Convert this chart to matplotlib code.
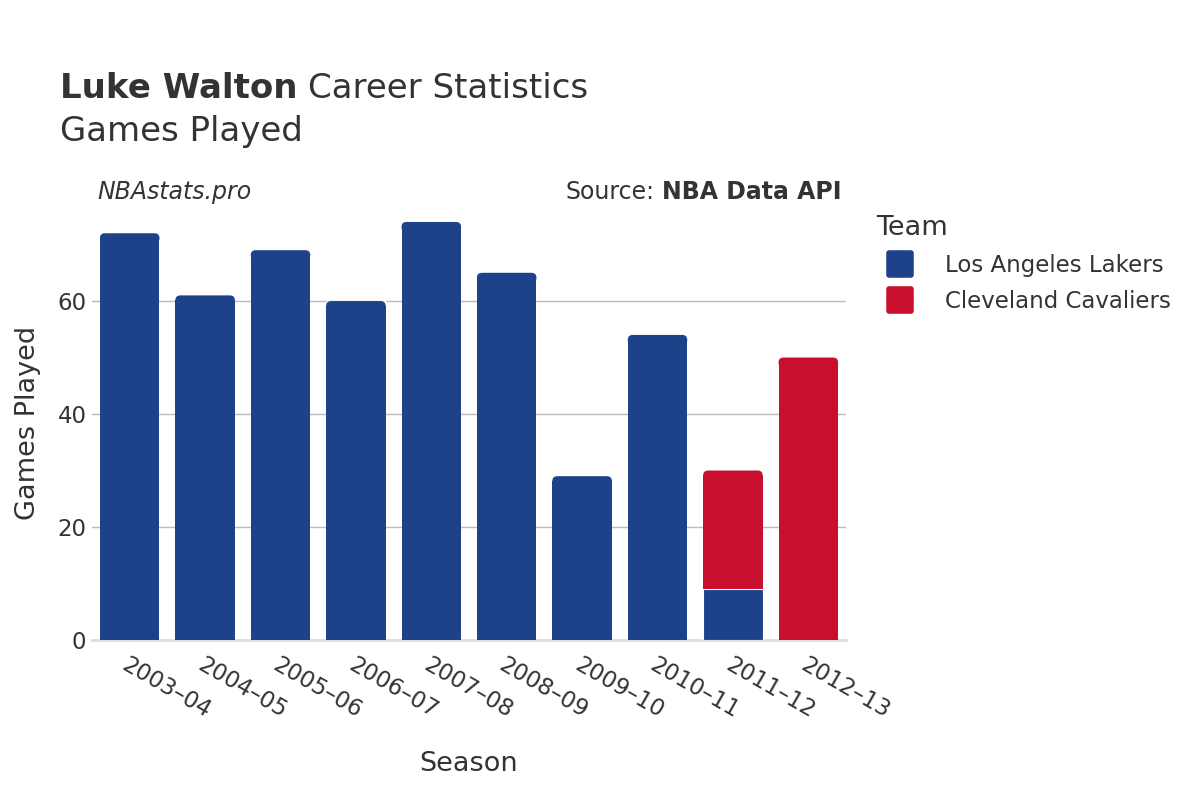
import numpy as np
import matplotlib.pyplot as plt
from matplotlib.patches import FancyBboxPatch
from matplotlib.lines import Line2D
from matplotlib.markers import MarkerStyle

# データ
seasons = ['2003–04', '2004–05', '2005–06', '2006–07', '2007–08',
           '2008–09', '2009–10', '2010–11', '2011–12', '2012–13']
lakers = [72, 61, 69, 60, 74, 65, 29, 54, 9, 0]
cavaliers = [0, 0, 0, 0, 0, 0, 0, 0, 21, 50]
teams = ['Los Angeles Lakers', 'Cleveland Cavaliers']
colors = ['#1d428a', '#c8102e']

text_color = '#333333'
plt.rcParams['font.family'] = ['DejaVu Sans']

fig = plt.figure(figsize=(12, 8), dpi=100)
ax = fig.add_axes([92 / 1200, 1 - 640 / 800, 754 / 1200, 435 / 800])

x = np.arange(len(seasons))
width = 0.79
ymax = 77

ax.set_xlim(-0.5, len(seasons) - 0.5)
ax.set_ylim(0, ymax)

# 積み上げ棒グラフ
b1 = ax.bar(x, lakers, width, color=colors[0], edgecolor='white', linewidth=0.8, zorder=3)
b2 = ax.bar(x, cavaliers, width, bottom=lakers, color=colors[1], edgecolor='white', linewidth=0.8, zorder=3)

# 上端の角を丸める
px_x = 754 / (len(seasons))       # 1単位あたりのピクセル (x)
px_y = 435 / ymax                 # 1単位あたりのピクセル (y)
r_px = 5
rx = r_px / px_x
ry = r_px / px_y
for i in range(len(seasons)):
    top_bar = b2[i] if cavaliers[i] > 0 else b1[i]
    col = colors[1] if cavaliers[i] > 0 else colors[0]
    h = top_bar.get_height()
    if h <= 2 * ry:
        continue
    top_bar.set_height(h - ry)
    top_bar.set_linewidth(0)
    y0 = top_bar.get_y()
    patch = FancyBboxPatch((x[i] - width / 2, y0 + h - 2 * ry), width, 2 * ry,
                           boxstyle=f'round,pad=0,rounding_size={rx}',
                           mutation_aspect=px_x / px_y,
                           facecolor=col, edgecolor='none', zorder=3)
    ax.add_patch(patch)

ax.set_yticks([0, 20, 40, 60])
ax.grid(axis='y', color='#bbbbbb', linewidth=1, zorder=0)
ax.set_axisbelow(True)
for s in ['top', 'right', 'left']:
    ax.spines[s].set_visible(False)
ax.spines['bottom'].set_color('#dddddd')
ax.spines['bottom'].set_linewidth(2)
ax.tick_params(axis='both', length=0, labelsize=16.5, colors=text_color)
ax.tick_params(axis='y', pad=4)
ax.set_xticks(x)
ax.set_xticklabels(seasons, rotation=-30, ha='left', rotation_mode='anchor')
ax.tick_params(axis='x', pad=10)

ax.set_xlabel('Season', fontsize=19.5, color=text_color, labelpad=20)
ax.set_ylabel('Games Played', fontsize=19.5, color=text_color, labelpad=12)

# タイトル
t1 = fig.text(60 / 1200, 1 - 89 / 800, 'Luke Walton', fontsize=24.5, fontweight='bold',
              color=text_color, va='center')
fig.canvas.draw()
bb = t1.get_window_extent()
fig.text(bb.x1 / 1200 + 10 / 1200, 1 - 89 / 800, 'Career Statistics', fontsize=24.5,
         color=text_color, va='center')
fig.text(60 / 1200, 1 - 132 / 800, 'Games Played', fontsize=24.5,
         color=text_color, va='center')
fig.text(97 / 1200, 1 - 192 / 800, 'NBAstats.pro', fontsize=17, style='italic',
         color=text_color, va='center')
t2 = fig.text(842 / 1200, 1 - 192 / 800, 'NBA Data API', fontsize=17, fontweight='bold',
              color=text_color, va='center', ha='right')
fig.canvas.draw()
bb2 = t2.get_window_extent()
fig.text(bb2.x0 / 1200 - 8 / 1200, 1 - 192 / 800, 'Source:', fontsize=17,
         color=text_color, va='center', ha='right')

# 凡例
handles = [Line2D([0], [0], marker=MarkerStyle('s', joinstyle='round'), linestyle='',
                  markersize=16, markeredgewidth=4,
                  markerfacecolor=c, markeredgecolor=c) for c in colors]
leg = fig.legend(handles, teams, loc='upper left', bbox_to_anchor=(856 / 1200, 1 - 194 / 800),
                 frameon=False, fontsize=16.5, title='Team', title_fontsize=19.5,
                 handletextpad=1.0, labelspacing=0.58, alignment='left')
leg.get_title().set_color(text_color)
for t in leg.get_texts():
    t.set_color(text_color)

fig.savefig('out.png', dpi=100)
